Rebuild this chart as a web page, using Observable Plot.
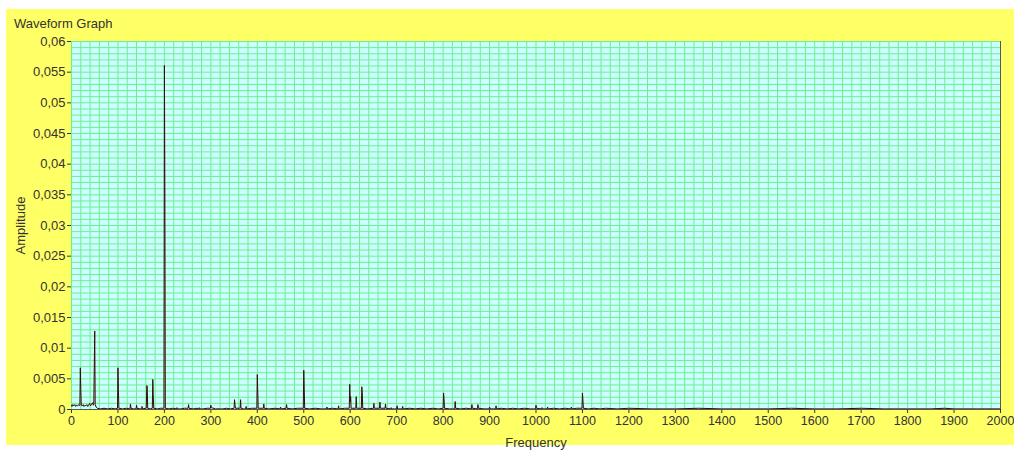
<!DOCTYPE html>
<html><head><meta charset="utf-8">
<script src="https://cdn.jsdelivr.net/npm/d3@7"></script>
<script src="https://cdn.jsdelivr.net/npm/@observablehq/plot@0.6"></script>
<style>
body{margin:0;background:#fff;}
#wrap{position:relative;width:1014px;height:450px;overflow:hidden;font-family:"Liberation Sans",Arial,sans-serif;}
#panel{position:absolute;left:6px;top:9px;width:1008px;height:436px;background:#ffff66;}
#title{position:absolute;left:14px;top:16px;font-size:13px;line-height:15px;color:#333;}
#chart{position:absolute;left:0;top:0;}
</style></head><body>
<div id="wrap"><div id="panel"></div><div id="title">Waveform Graph</div><div id="chart"></div></div>
<script>
const freqHz = [0,1,3,5,7,9,11,13,15,17,18,19,20,21,23,25,27,29,31,33,35,37,39,41,43,45,47,48,49,50,51,53,56,62,70,78,86,94,99,100,101,102,110,118,126,127,128,134,139,140,141,148,151,152,153,160,161,162,163,164,170,174,175,176,177,185,192,199,200,201,202,210,218,226,227,228,235,243,251,252,253,262,270,274,275,276,283,292,299,300,301,310,316,317,318,325,334,342,350,351,352,353,362,363,364,365,370,375,376,377,388,399,400,401,402,413,414,415,425,438,449,450,451,462,463,464,475,487,499,500,501,502,512,525,538,549,550,551,562,574,575,576,588,598,599,600,601,602,612,613,614,624,625,626,627,638,650,651,652,663,664,665,675,676,677,687,688,689,695,700,701,702,712,713,714,728,740,752,765,778,790,800,801,802,803,814,825,826,827,838,850,861,862,863,874,875,876,888,899,900,901,913,914,915,925,938,950,962,975,988,999,1000,1001,1012,1013,1014,1024,1025,1026,1038,1050,1063,1075,1076,1077,1088,1099,1100,1101,1102,1113,1125,1138,1150,1175,1200,1250,1300,1350,1400,1450,1500,1550,1600,1650,1700,1750,1800,1850,1880,1900,1950,2000];
const amplitude = [0.0007,0.0005,0.0008,0.0006,0.0008,0.0005,0.0007,0.0006,0.0008,0.0006,0.0007,0.0068,0.0033,0.0007,0.0006,0.0008,0.0005,0.0007,0.0006,0.0008,0.0005,0.0007,0.0010,0.0006,0.0008,0.0011,0.0007,0.0009,0.0068,0.0128,0.0008,0.0004,0.0002,0.0001,0.0002,0.0001,0.0002,0.0001,0.0002,0.0068,0.0032,0.0002,0.0001,0.0002,0.0001,0.0009,0.0002,0.0001,0.0001,0.0007,0.0002,0.0001,0.0001,0.0005,0.0001,0.0002,0.0002,0.0039,0.0038,0.0002,0.0001,0.0002,0.0049,0.0024,0.0002,0.0001,0.0002,0.0002,0.0561,0.0362,0.0002,0.0001,0.0002,0.0001,0.0003,0.0001,0.0001,0.0002,0.0002,0.0008,0.0002,0.0001,0.0002,0.0001,0.0003,0.0001,0.0001,0.0002,0.0002,0.0007,0.0003,0.0001,0.0001,0.0002,0.0001,0.0001,0.0002,0.0001,0.0002,0.0016,0.0008,0.0002,0.0002,0.0002,0.0016,0.0002,0.0001,0.0001,0.0005,0.0001,0.0002,0.0002,0.0057,0.0030,0.0002,0.0002,0.0009,0.0002,0.0001,0.0002,0.0001,0.0004,0.0001,0.0002,0.0008,0.0002,0.0001,0.0002,0.0002,0.0064,0.0035,0.0002,0.0001,0.0002,0.0001,0.0001,0.0004,0.0001,0.0002,0.0001,0.0006,0.0001,0.0002,0.0002,0.0041,0.0012,0.0021,0.0002,0.0002,0.0021,0.0002,0.0002,0.0037,0.0027,0.0002,0.0001,0.0002,0.0010,0.0002,0.0002,0.0012,0.0002,0.0002,0.0009,0.0002,0.0001,0.0003,0.0001,0.0001,0.0001,0.0006,0.0001,0.0001,0.0005,0.0001,0.0002,0.0001,0.0002,0.0001,0.0002,0.0001,0.0002,0.0027,0.0018,0.0002,0.0001,0.0001,0.0013,0.0002,0.0001,0.0002,0.0001,0.0008,0.0002,0.0001,0.0008,0.0002,0.0001,0.0001,0.0004,0.0001,0.0001,0.0006,0.0001,0.0002,0.0001,0.0002,0.0001,0.0002,0.0001,0.0001,0.0007,0.0002,0.0001,0.0003,0.0001,0.0001,0.0004,0.0001,0.0002,0.0001,0.0002,0.0001,0.0004,0.0001,0.0002,0.0002,0.0027,0.0016,0.0002,0.0001,0.0002,0.0001,0.0002,0.0001,0.0002,0.0001,0.0001,0.0002,0.0001,0.0001,0.0001,0.0002,0.0001,0.0001,0.0002,0.0001,0.0001,0.0001,0.0002,0.0001,0.0001,0.0001];
const xTickValues = [0,100,200,300,400,500,600,700,800,900,1000,1100,1200,1300,1400,1500,1600,1700,1800,1900,2000];
const yTickValues = [0,0.005,0.01,0.015,0.02,0.025,0.03,0.035,0.04,0.045,0.05,0.055,0.06];
const yTickLabels = ["0","0,005","0,01","0,015","0,02","0,025","0,03","0,035","0,04","0,045","0,05","0,055","0,06"];

const points = freqHz.map((f, i) => ({f, a: amplitude[i]}));
const xGrid = d3.range(0, 101).map(i => i * 20);
const yGrid = d3.range(0, 61).map(i => i / 1000);

const chart = Plot.plot({
  width: 1014, height: 450,
  marginLeft: 71, marginRight: 14, marginTop: 41, marginBottom: 41,
  style: {background: "transparent", fontFamily: "'Liberation Sans', Arial, sans-serif", fontSize: "13px", color: "#333"},
  x: {domain: [0, 2000]},
  y: {domain: [0, 0.06]},
  marks: [
    Plot.frame({fill: "#ccffff", stroke: null}),
    Plot.gridX(xGrid, {stroke: "#6cf08c", strokeOpacity: 1}),
    Plot.gridY(yGrid, {stroke: "#6cf08c", strokeOpacity: 1}),
    Plot.axisX({ticks: xTickValues, tickSize: 4, tickPadding: 3, tickFormat: d => String(d), label: null, fontSize: 12.5}),
    Plot.axisX({ticks: [], tickSize: 0, label: "Frequency", labelAnchor: "center", labelArrow: "none", labelOffset: 37, fontSize: 13}),
    Plot.axisY({ticks: yTickValues, tickSize: 4, tickPadding: 2, tickFormat: d => yTickLabels[yTickValues.indexOf(d)], label: null, fontSize: 13}),
    Plot.axisY({ticks: [], tickSize: 0, label: "Amplitude", labelAnchor: "center", labelArrow: "none", labelOffset: 56, fontSize: 13}),
    Plot.line(points, {x: "f", y: "a", stroke: "#3a0a0a", strokeWidth: 1}),
    Plot.ruleY([0], {stroke: "#555"}),
    Plot.ruleX([2000], {stroke: "#555"})
  ]
});
document.getElementById("chart").appendChild(chart);
</script>
</body></html>
